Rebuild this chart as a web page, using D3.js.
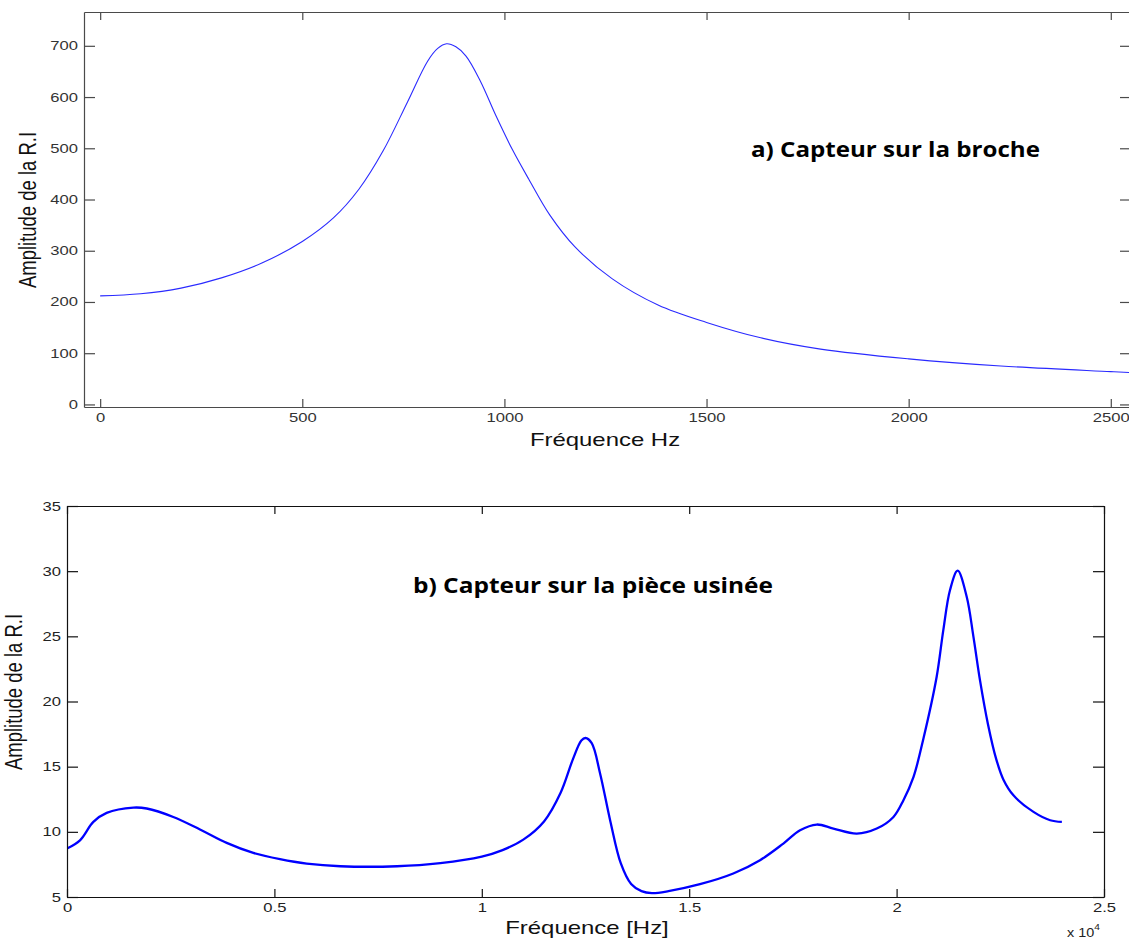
<!DOCTYPE html>
<html>
<head>
<meta charset="utf-8">
<script src="https://cdn.jsdelivr.net/npm/d3@7"></script>
<style>
  body { margin: 0; background: #fff; }
  svg { display: block; }
  text { font-family: "Liberation Sans", Arial, sans-serif; }
  .title { font-family: "Open Sans", "Noto Sans", sans-serif; font-weight: bold; }
</style>
</head>
<body>
<script>
// panel a) - sensor on the spindle
const freqA = [0, 100, 200, 300, 400, 500, 577, 640, 700, 760, 810, 835, 857, 880, 905, 940,
  980, 1020, 1060, 1112, 1174, 1267, 1380, 1500, 1634, 1782, 2000, 2228, 2500, 2550];
const ampA = [212, 216, 227, 247, 276, 318, 364, 420, 495, 590, 670, 695, 704, 698, 680, 632,
  562, 497, 440, 370, 308, 245, 194, 160, 130, 108, 89, 75, 64, 62];
const ticksAx = [0, 500, 1000, 1500, 2000, 2500];
const ticksAy = [0, 100, 200, 300, 400, 500, 600, 700];

// panel b) - sensor on the machined part
const freqB = [0, 313, 635, 956, 1600, 1922, 2563, 3206, 3850, 4492, 5135, 5778, 6589, 7956,
  9000, 10000, 10500, 11000, 11500, 11900, 12200, 12400, 12500, 12650, 12850, 13100, 13350,
  13600, 13850, 14100, 14500, 15260, 16063, 16707, 17270, 17672, 18074, 18476, 19040, 19522,
  19924, 20165, 20406, 20650, 20966, 21127, 21288, 21472, 21690, 21851, 22012, 22200, 22400,
  22576, 22817, 23300, 23702, 23984];
const ampB = [8.72, 9.35, 10.76, 11.45, 11.86, 11.79, 11.14, 10.18, 9.15, 8.38, 7.9, 7.56, 7.36, 7.36,
  7.6, 8.1, 8.6, 9.4, 10.8, 13.0, 15.6, 17.0, 17.2, 16.8, 14.5, 10.8, 7.6,
  6.0, 5.45, 5.3, 5.45, 5.98, 6.8, 7.82, 9.1, 10.12, 10.56, 10.25, 9.87, 10.25,
  11.14, 12.43, 14.2, 17.2, 21.9, 25.5, 28.56, 30.04, 28.04, 25.0, 21.6, 18.3, 15.6,
  14.0, 12.8, 11.53, 10.89, 10.76];
const ticksBx = [0, 5000, 10000, 15000, 20000, 25000];
const ticksBy = [5, 10, 15, 20, 25, 30, 35];

const W = 1129, H = 941;
const stretch = 1.33; // the original figure is stretched horizontally

const svg = d3.select('body').append('svg')
  .attr('width', W)
  .attr('height', H);

function panel(opt) {
  const x = d3.scaleLinear().domain(opt.xDomain).range([opt.left, opt.right]);
  const y = d3.scaleLinear().domain(opt.yDomain).range([opt.bottom, opt.top]);

  const g = svg.append('g');
  const clipId = 'clip-' + opt.id;
  g.append('clipPath').attr('id', clipId)
    .append('rect')
      .attr('x', opt.left).attr('y', opt.top)
      .attr('width', opt.right - opt.left).attr('height', opt.bottom - opt.top);

  const line = d3.line()
    .x(d => x(d[0]))
    .y(d => y(d[1]))
    .curve(d3.curveCatmullRom.alpha(0.5));

  g.append('path')
    .datum(d3.zip(opt.freq, opt.amp))
    .attr('clip-path', `url(#${clipId})`)
    .attr('fill', 'none')
    .attr('stroke', opt.lineColor)
    .attr('stroke-width', opt.lineWidth)
    .attr('stroke-linejoin', 'round')
    .attr('d', line);

  const xAxis = d3.axisBottom(x).tickValues(opt.xTicks).tickFormat(opt.xFormat)
    .tickSizeInner(-8).tickSizeOuter(0).tickPadding(6);
  const xTop = d3.axisTop(x).tickValues(opt.xTicks).tickFormat('')
    .tickSizeInner(-8).tickSizeOuter(0);
  const yAxis = d3.axisLeft(y).tickValues(opt.yTicks)
    .tickSizeInner(-11).tickSizeOuter(0).tickPadding(4.5);
  const yRight = d3.axisRight(y).tickValues(opt.yTicks).tickFormat('')
    .tickSizeInner(-11).tickSizeOuter(0);

  const axes = [
    g.append('g').attr('transform', `translate(0,${opt.bottom})`).call(xAxis),
    g.append('g').attr('transform', `translate(0,${opt.top})`).call(xTop),
    g.append('g').attr('transform', `translate(${opt.left},0)`).call(yAxis),
    g.append('g').attr('transform', `translate(${opt.right},0)`).call(yRight)
  ];
  axes.forEach(a => {
    a.selectAll('path, line').attr('stroke', opt.axisColor).attr('stroke-width', 1.2);
    a.selectAll('text')
      .attr('fill', opt.textColor)
      .style('font-size', '12.5px')
      .attr('transform', `scale(${stretch},1)`);
  });

  g.append('text')
    .attr('x', opt.xLabelPos[0]).attr('y', opt.xLabelPos[1])
    .attr('text-anchor', 'middle')
    .attr('fill', '#111')
    .style('font-size', '18px')
    .attr('transform', `translate(${opt.xLabelPos[0]},0) scale(${stretch},1) translate(${-opt.xLabelPos[0]},0)`)
    .text(opt.xLabel);

  g.append('text')
    .attr('text-anchor', 'middle')
    .attr('fill', '#111')
    .style('font-size', '18.5px')
    .attr('transform', `translate(${opt.yLabelPos[0]},${opt.yLabelPos[1]}) scale(${stretch},1) rotate(-90)`)
    .text('Amplitude de la R.I');

  g.append('text')
    .attr('class', 'title')
    .attr('x', opt.titlePos[0]).attr('y', opt.titlePos[1])
    .attr('fill', '#000')
    .style('font-size', '22px')
    .attr('textLength', opt.titleLen)
    .attr('lengthAdjust', 'spacingAndGlyphs')
    .text(opt.title);

  return { x, y, g };
}

panel({
  id: 'a',
  freq: freqA, amp: ampA,
  xDomain: [-40, 2550], yDomain: [-5, 766],
  left: 84, right: 1131, top: 12, bottom: 407,
  xTicks: ticksAx, yTicks: ticksAy,
  xFormat: d => d,
  lineColor: '#2a2aff', lineWidth: 1.1,
  axisColor: '#4a4a4a', textColor: '#333',
  xLabel: 'Fréquence Hz', xLabelPos: [605, 446],
  yLabelPos: [36, 210],
  title: 'a) Capteur sur la broche', titlePos: [751, 157], titleLen: 289
});

const b = panel({
  id: 'b',
  freq: freqB, amp: ampB,
  xDomain: [0, 25000], yDomain: [5, 35],
  left: 67, right: 1104, top: 506, bottom: 897,
  xTicks: ticksBx, yTicks: ticksBy,
  xFormat: d => d / 1e4,
  lineColor: '#0000ff', lineWidth: 2.3,
  axisColor: '#111', textColor: '#222',
  xLabel: 'Fréquence [Hz]', xLabelPos: [587, 934],
  yLabelPos: [22, 692],
  title: 'b) Capteur sur la pièce usinée', titlePos: [413, 593], titleLen: 360
});

// exponent note under the x axis of panel b
const expo = b.g.append('text')
  .attr('x', 1067).attr('y', 937)
  .attr('fill', '#222')
  .style('font-size', '12px')
  .attr('transform', `translate(1067,0) scale(1.2,1) translate(-1067,0)`);
expo.append('tspan').text('x 10');
expo.append('tspan').attr('dy', -7).style('font-size', '8.5px').text('4');
</script>
</body>
</html>
